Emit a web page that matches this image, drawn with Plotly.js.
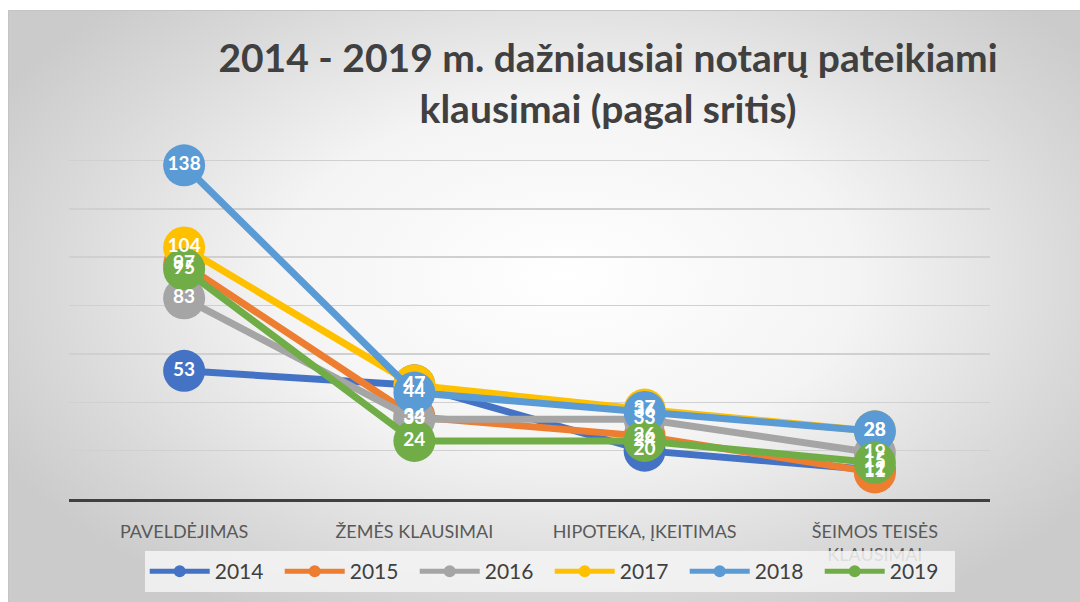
<!DOCTYPE html>
<html>
<head>
<meta charset="utf-8">
<script src="https://cdn.plot.ly/plotly-3.0.1.min.js"></script>
<style>
  html, body { margin: 0; padding: 0; background: #ffffff; }
  #wrap { position: relative; width: 1080px; height: 602px; overflow: hidden; background: #ffffff; }
  #bg { position: absolute; left: 8px; top: 10px; width: 1072px; height: 592px;
        background: radial-gradient(ellipse 60% 65% at 52% 45%, #ffffff 0%, #f4f4f4 45%, #d9d9d9 80%, #cbcbcb 100%);
        border-left: 1px solid #c4c4c4; border-top: 1px solid #c4c4c4; }
  #chart { position: absolute; left: 0; top: 0; width: 1080px; height: 602px; }
</style>
</head>
<body>
<div id="wrap">
  <div id="bg"></div>
  <div id="chart"></div>
</div>
<script>
var categories = ["PAVELDĖJIMAS", "ŽEMĖS KLAUSIMAI", "HIPOTEKA, ĮKEITIMAS", "ŠEIMOS TEISĖS<br>KLAUSIMAI"];
var years = ["2014", "2015", "2016", "2017", "2018", "2019"];
var v2014 = [53, 47, 20, 12];
var v2015 = [97, 34, 26, 11];
var v2016 = [83, 33, 33, 19];
var v2017 = [104, 47, 37, 28];
var v2018 = [138, 44, 36, 28];
var v2019 = [95, 24, 24, 15];
var seriesValues = [v2014, v2015, v2016, v2017, v2018, v2019];
var colors = ["#4472C4", "#ED7D31", "#A5A5A5", "#FFC000", "#5B9BD5", "#70AD47"];

var lineTraces = years.map(function (y, i) {
  return {
    type: "scatter",
    mode: "lines+markers",
    name: y,
    x: categories,
    y: seriesValues[i],
    line: { color: colors[i], width: 7 },
    marker: { color: colors[i], size: 42, symbol: "circle" },
    cliponaxis: false,
    hoverinfo: "x+y+name"
  };
});

// data labels drawn above all markers, as in the original chart
var labelTraces = years.map(function (y, i) {
  return {
    type: "scatter",
    mode: "text",
    name: y,
    showlegend: false,
    x: categories,
    y: seriesValues[i],
    text: seriesValues[i].map(String),
    textposition: "middle center",
    textfont: { family: "Lato, 'Open Sans', sans-serif", size: 19, color: "#ffffff", weight: "bold" },
    cliponaxis: false,
    hoverinfo: "skip"
  };
});

var layout = {
  width: 1080,
  height: 602,
  paper_bgcolor: "rgba(0,0,0,0)",
  plot_bgcolor: "rgba(0,0,0,0)",
  margin: { l: 69, r: 90, t: 159, b: 103 },
  font: { family: "Lato, 'Open Sans', sans-serif", color: "#595959" },
  title: {
    text: "<b>2014 - 2019 m. dažniausiai notarų pateikiami<br>klausimai (pagal sritis)</b>",
    font: { family: "Lato, 'Open Sans', sans-serif", size: 39, color: "#404040" },
    xref: "container", x: 0.563, xanchor: "center",
    yref: "container", y: 1 - 72 / 602, yanchor: "middle"
  },
  xaxis: {
    type: "category",
    range: [-0.5, 3.5],
    showgrid: false,
    showline: true,
    linecolor: "#404040",
    linewidth: 3,
    ticks: "",
    ticklabelstandoff: 14,
    tickfont: { size: 18, color: "#595959", family: "Lato, 'Open Sans', sans-serif" },
    fixedrange: true
  },
  yaxis: {
    range: [0, 140.6],
    tick0: 0,
    dtick: 20,
    showticklabels: false,
    showline: false,
    zeroline: false,
    gridcolor: "#d0d0d0",
    gridwidth: 1.5,
    fixedrange: true
  },
  showlegend: true,
  legend: {
    orientation: "h",
    xref: "container", x: 0.509, xanchor: "center",
    yref: "container", y: 10 / 602, yanchor: "bottom",
    bgcolor: "rgba(245,245,245,0.85)",
    font: { size: 21, color: "#404040", family: "Lato, 'Open Sans', sans-serif" },
    entrywidth: 60,
    itemwidth: 60,
    itemsizing: "constant",
    traceorder: "normal"
  }
};

Plotly.newPlot("chart", lineTraces.concat(labelTraces), layout, { displayModeBar: false, staticPlot: true });
</script>
</body>
</html>
